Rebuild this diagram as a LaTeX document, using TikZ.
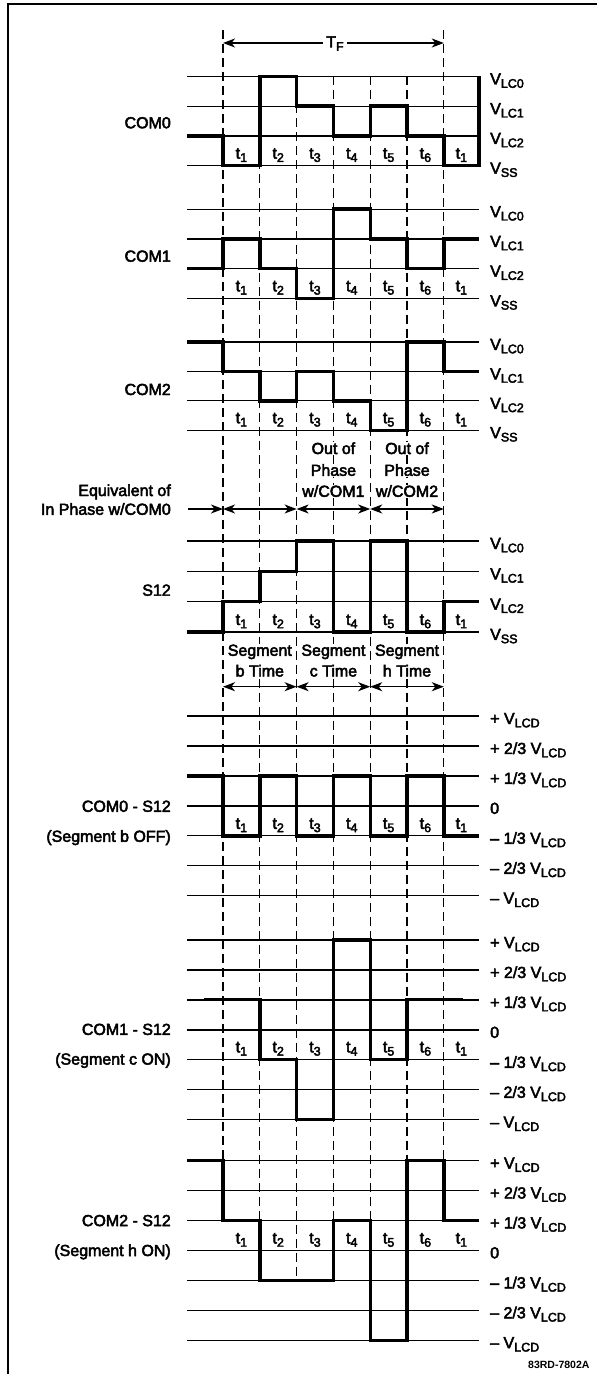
\documentclass[tikz,border=0pt]{standalone}
\usepackage{fontspec}
\setmainfont{Liberation Sans}
\newfontfamily\heavy[FakeBold=3]{Liberation Sans}
\usetikzlibrary{arrows.meta}
\newcommand{\lsub}[1]{\raisebox{-3.3bp}{\fontsize{12.5bp}{12.5bp}\selectfont #1}}
\begin{document}
\begin{tikzpicture}[x=1bp,y=-1bp,
  frame/.style={line width=1.6bp},
  lvl/.style={line width=1.3bp},
  wave/.style={line width=3.4bp, line join=miter},
  gridline/.style={line width=1.1bp, dash pattern=on 9bp off 5bp},
  txt/.style={inner sep=0pt, font=\heavy\fontsize{16bp}{19bp}\selectfont},
  rlab/.style={txt, anchor=base west},
  llab/.style={txt, anchor=base east},
  tlab/.style={txt, anchor=base},
  ctext/.style={txt, anchor=base, fill=white, inner sep=0.6bp},
  tip/.tip={Stealth[length=12bp,width=9bp,inset=3.5bp]},
  darr/.style={line width=1.3bp, tip-tip},
  sarr/.style={line width=1.3bp, -tip},
]
\useasboundingbox (0,0) rectangle (597,1374);
% frame
\draw[frame] (8,1374) -- (8,4) -- (597,4);

% vertical time boundaries
\draw[gridline] (223,30) -- (223,1160.5);
\draw[gridline] (259.8,76.5) -- (259.8,1220.3);
\draw[gridline] (296.6,76.5) -- (296.6,1280.1);
\draw[gridline] (333.4,76.5) -- (333.4,1220.3);
\draw[gridline] (370.2,76.5) -- (370.2,1220.3);
\draw[gridline] (407,76.5) -- (407,1160.5);
\draw[gridline] (443.8,30) -- (443.8,1160.5);

% T_F
\coordinate (tfa) at (223,43);
\coordinate (tfb) at (443.8,43);
\draw[darr] (tfa) -- (tfb);
\node[txt, anchor=base, fill=white, inner xsep=3bp, inner ysep=1bp] (tf) at (335,47.5) {T\lsub{F}};

% level lines and right labels (COM rows)
\foreach \y/\lab [count=\k] in {76.5/LC0,106.2/LC1,135.9/LC2,165.6/SS,
  209.2/LC0,238.9/LC1,268.6/LC2,298.3/SS,
  342/LC0,371.4/LC1,400.8/LC2,430.2/SS,
  541/LC0,571.3/LC1,601.6/LC2,631.9/SS}{
  \draw[lvl] (187,\y) -- (479,\y);
  \node[rlab] (r\k) at (490,\y+8) {V\lsub{\lab}};
}
% level lines and right labels (difference rows)
\foreach \base/\r in {716/a,940/b,1160.5/c}{
  \foreach \d in {0,...,6}{
    \pgfmathsetmacro{\yy}{\base+\d*29.95}
    \draw[lvl] (187,\yy) -- (479,\yy);
  }
  \node[rlab] (\r1) at (490,\base+8) {+ V\lsub{LCD}};
  \node[rlab] (\r2) at (490,\base+29.95+8) {+ 2/3 V\lsub{LCD}};
  \node[rlab] (\r3) at (490,\base+59.9+8) {+ 1/3 V\lsub{LCD}};
  \node[rlab] (\r4) at (490,\base+89.85+8) {0};
  \node[rlab] (\r5) at (490,\base+119.8+8) {– 1/3 V\lsub{LCD}};
  \node[rlab] (\r6) at (490,\base+149.75+8) {– 2/3 V\lsub{LCD}};
  \node[rlab] (\r7) at (490,\base+179.7+8) {– V\lsub{LCD}};
}

% waveforms
\draw[wave] (187,135.9) -- (223,135.9) |- (259.8,165.6) |- (296.6,76.5) |- (333.4,106.2) |- (370.2,135.9) |- (407,106.2) |- (443.8,135.9) |- (479,165.6) -- (479,76.5);
\draw[wave] (187,268.6) -- (223,268.6) |- (259.8,238.9) |- (296.6,268.6) |- (333.4,298.3) |- (370.2,209.2) |- (407,238.9) |- (443.8,268.6) |- (479,238.9);
\draw[wave] (187,342) -- (223,342) |- (259.8,371.4) |- (296.6,400.8) |- (333.4,371.4) |- (370.2,400.8) |- (407,430.2) |- (443.8,342) |- (479,371.4);
\draw[wave] (187,631.9) -- (223,631.9) |- (259.8,601.6) |- (296.6,571.3) |- (333.4,541) |- (370.2,631.9) |- (407,541) |- (443.8,631.9) |- (479,601.6);
\draw[wave] (187,775.9) -- (223,775.9) |- (259.8,835.8) |- (296.6,775.9) |- (333.4,835.8) |- (370.2,775.9) |- (407,835.8) |- (443.8,775.9) |- (479,835.8);
\draw[wave] (203.7,999.4) -- (259.8,999.4) |- (296.6,1059.3) |- (333.4,1119.2) |- (370.2,940) |- (407,1059.3) |- (462.6,999.4);
\draw[wave] (187,1160.5) -- (223,1160.5) |- (259.8,1220.4) |- (333.4,1280.3) |- (370.2,1220.4) |- (407,1340.2) |- (443.8,1160.5) |- (479,1220.4);

% t labels
\foreach \yb/\r in {158.6/p,291.3/q,423.2/s,624.9/u,828.8/v,1052.3/w,1243.4/z}{
  \foreach \n/\x [count=\k] in {1/241.4,2/278.2,3/315,4/351.8,5/388.6,6/425.4,1/461.4}{
    \node[tlab] (t\r\k) at (\x,\yb) {t\lsub{\n}};
  }
}

% left labels
\node[llab] (com0) at (171,128.3) {COM0};
\node[llab] (com1) at (171,261.7) {COM1};
\node[llab] (com2) at (171,395) {COM2};
\node[llab] (s12) at (171,595.7) {S12};
\node[llab] (eq1) at (171,496) {Equivalent of};
\node[llab] (eq2) at (171,514.8) {In Phase w/COM0};
\node[llab] (d0a) at (171,811.8) {COM0 - S12};
\node[llab] (d0b) at (171,841.8) {(Segment b OFF)};
\node[llab] (d1a) at (171,1034.9) {COM1 - S12};
\node[llab] (d1b) at (171,1064.6) {(Segment c ON)};
\node[llab] (d2a) at (171,1226.1) {COM2 - S12};
\node[llab] (d2b) at (171,1256) {(Segment h ON)};

% phase notes
\node[ctext] (o1a) at (333.4,454) {Out of};
\node[ctext] (o1b) at (333.4,475.8) {Phase};
\node[ctext] (o1c) at (333.4,496.8) {w/COM1};
\node[ctext] (o2a) at (407,454) {Out of};
\node[ctext] (o2b) at (407,475.8) {Phase};
\node[ctext] (o2c) at (407,496.8) {w/COM2};

% phase arrows
\coordinate (pa0) at (188,509);
\coordinate (pb0) at (223,509);
\coordinate (pb2) at (296.6,509);
\coordinate (pb4) at (370.2,509);
\coordinate (pb6) at (443.8,509);
\draw[sarr] (pa0) -- (pb0);
\draw[darr] (pb0) -- (pb2);
\draw[darr] (pb2) -- (pb4);
\draw[darr] (pb4) -- (pb6);

% segment notes
\node[ctext] (sga) at (259.8,655.8) {Segment};
\node[ctext] (sgb) at (259.8,676.5) {b Time};
\node[ctext] (sgc) at (333.4,655.8) {Segment};
\node[ctext] (sgd) at (333.4,676.5) {c Time};
\node[ctext] (sge) at (407,655.8) {Segment};
\node[ctext] (sgf) at (407,676.5) {h Time};
\coordinate (sb0) at (223,686.7);
\coordinate (sb2) at (296.6,686.7);
\coordinate (sb4) at (370.2,686.7);
\coordinate (sb6) at (443.8,686.7);
\draw[darr] (sb0) -- (sb2);
\draw[darr] (sb2) -- (sb4);
\draw[darr] (sb4) -- (sb6);

% figure code
\node[anchor=base west, inner sep=0pt, font=\bfseries\fontsize{10.5bp}{11bp}\selectfont] (code) at (528,1368) {83RD-7802A};
\end{tikzpicture}
\end{document}
